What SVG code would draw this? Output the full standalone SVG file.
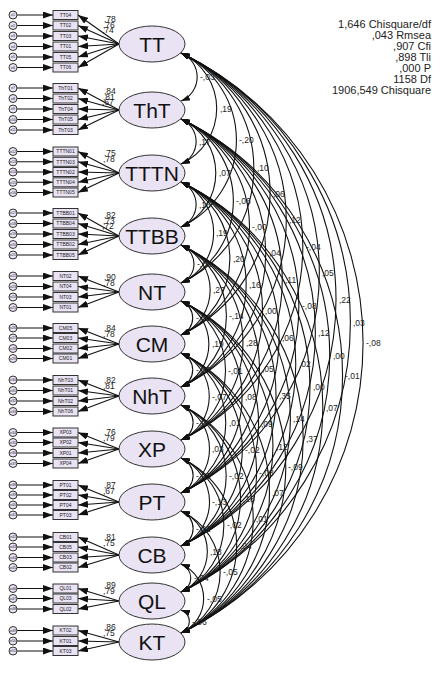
<svg xmlns="http://www.w3.org/2000/svg" width="442" height="673" viewBox="0 0 442 673">
<defs>
<style>
.lat{fill:#e9e3f3;stroke:#333;stroke-width:1}
.lt{font-family:"Liberation Sans",Arial,sans-serif;font-size:21px;fill:#111;text-anchor:middle}
.ind{fill:#e9e3f3;stroke:#333;stroke-width:1}
.it{font-family:"Liberation Sans",Arial,sans-serif;font-size:5px;fill:#222;text-anchor:middle}
.err{fill:#e9e3f3;stroke:#333;stroke-width:1}
.et{font-family:"Liberation Sans",Arial,sans-serif;font-size:3.6px;fill:#222;text-anchor:middle}
.ea line{stroke:#111;stroke-width:1.1;marker-end:url(#ah)}
.la line{stroke:#111;stroke-width:1.1;marker-end:url(#ah)}
.cov path{stroke:#111;stroke-width:1.1;fill:none;marker-start:url(#ch);marker-end:url(#ch)}
.lb{font-family:"Liberation Sans",Arial,sans-serif;font-size:8.5px;fill:#222}
.st{font-family:"Liberation Sans",Arial,sans-serif;font-size:11px;fill:#222;text-anchor:end}
</style>
<marker id="ah" markerUnits="userSpaceOnUse" markerWidth="10" markerHeight="7" refX="10" refY="3.5" orient="auto"><path d="M0,0 L10,3.5 L0,7 z" fill="#111"/></marker>
<marker id="ch" markerUnits="userSpaceOnUse" markerWidth="9" markerHeight="6" refX="9" refY="3" orient="auto-start-reverse"><path d="M0,0 L9,3 L0,6 z" fill="#111"/></marker>
</defs>
<rect width="442" height="673" fill="#fff"/>

<g id="stats">
<text class="st" x="431" y="28">1,646 Chisquare/df</text>
<text class="st" x="431" y="39">,043 Rmsea</text>
<text class="st" x="431" y="50">,907 Cfi</text>
<text class="st" x="431" y="61">,898 Tli</text>
<text class="st" x="431" y="72">,000 P</text>
<text class="st" x="431" y="83">1158 Df</text>
<text class="st" x="431" y="94">1906,549 Chisquare</text>
</g>

<g id="connectors">
<g id="error-arrows" class="ea">
<line x1="17" y1="15" x2="53" y2="15"/><line x1="17" y1="25.5" x2="53" y2="25.5"/><line x1="17" y1="36" x2="53" y2="36"/><line x1="17" y1="46.5" x2="53" y2="46.5"/><line x1="17" y1="57" x2="53" y2="57"/><line x1="17" y1="67.5" x2="53" y2="67.5"/>
<line x1="17" y1="88" x2="53" y2="88"/><line x1="17" y1="98.5" x2="53" y2="98.5"/><line x1="17" y1="109" x2="53" y2="109"/><line x1="17" y1="119.5" x2="53" y2="119.5"/><line x1="17" y1="130" x2="53" y2="130"/>
<line x1="17" y1="151.5" x2="53" y2="151.5"/><line x1="17" y1="161.8" x2="53" y2="161.8"/><line x1="17" y1="172" x2="53" y2="172"/><line x1="17" y1="182.3" x2="53" y2="182.3"/><line x1="17" y1="192.5" x2="53" y2="192.5"/>
<line x1="17" y1="213" x2="53" y2="213"/><line x1="17" y1="223.5" x2="53" y2="223.5"/><line x1="17" y1="234" x2="53" y2="234"/><line x1="17" y1="244.5" x2="53" y2="244.5"/><line x1="17" y1="255" x2="53" y2="255"/>
<line x1="17" y1="276" x2="53" y2="276"/><line x1="17" y1="286.5" x2="53" y2="286.5"/><line x1="17" y1="297" x2="53" y2="297"/><line x1="17" y1="307.5" x2="53" y2="307.5"/>
<line x1="17" y1="328" x2="53" y2="328"/><line x1="17" y1="338" x2="53" y2="338"/><line x1="17" y1="348.5" x2="53" y2="348.5"/><line x1="17" y1="358.5" x2="53" y2="358.5"/>
<line x1="17" y1="380" x2="53" y2="380"/><line x1="17" y1="390.5" x2="53" y2="390.5"/><line x1="17" y1="401" x2="53" y2="401"/><line x1="17" y1="411.5" x2="53" y2="411.5"/>
<line x1="17" y1="432.5" x2="53" y2="432.5"/><line x1="17" y1="442.5" x2="53" y2="442.5"/><line x1="17" y1="453" x2="53" y2="453"/><line x1="17" y1="463.5" x2="53" y2="463.5"/>
<line x1="17" y1="485" x2="53" y2="485"/><line x1="17" y1="495" x2="53" y2="495"/><line x1="17" y1="505" x2="53" y2="505"/><line x1="17" y1="515" x2="53" y2="515"/>
<line x1="17" y1="537" x2="53" y2="537"/><line x1="17" y1="547" x2="53" y2="547"/><line x1="17" y1="557.5" x2="53" y2="557.5"/><line x1="17" y1="567.5" x2="53" y2="567.5"/>
<line x1="17" y1="588.5" x2="53" y2="588.5"/><line x1="17" y1="598.5" x2="53" y2="598.5"/><line x1="17" y1="609" x2="53" y2="609"/>
<line x1="17" y1="630.5" x2="53" y2="630.5"/><line x1="17" y1="641" x2="53" y2="641"/><line x1="17" y1="651" x2="53" y2="651"/>
</g>
<g id="loadings" class="la">
<line x1="119" y1="44" x2="78" y2="15"/><line x1="119" y1="44" x2="78" y2="25.5"/><line x1="119" y1="44" x2="78" y2="36"/><line x1="119" y1="44" x2="78" y2="46.5"/><line x1="119" y1="44" x2="78" y2="57"/><line x1="119" y1="44" x2="78" y2="67.5"/>
<line x1="119" y1="110" x2="78" y2="88"/><line x1="119" y1="110" x2="78" y2="98.5"/><line x1="119" y1="110" x2="78" y2="109"/><line x1="119" y1="110" x2="78" y2="119.5"/><line x1="119" y1="110" x2="78" y2="130"/>
<line x1="119" y1="173" x2="78" y2="151.5"/><line x1="119" y1="173" x2="78" y2="161.8"/><line x1="119" y1="173" x2="78" y2="172"/><line x1="119" y1="173" x2="78" y2="182.3"/><line x1="119" y1="173" x2="78" y2="192.5"/>
<line x1="119" y1="236" x2="78" y2="213"/><line x1="119" y1="236" x2="78" y2="223.5"/><line x1="119" y1="236" x2="78" y2="234"/><line x1="119" y1="236" x2="78" y2="244.5"/><line x1="119" y1="236" x2="78" y2="255"/>
<line x1="119" y1="292" x2="78" y2="276"/><line x1="119" y1="292" x2="78" y2="286.5"/><line x1="119" y1="292" x2="78" y2="297"/><line x1="119" y1="292" x2="78" y2="307.5"/>
<line x1="119" y1="344" x2="78" y2="328"/><line x1="119" y1="344" x2="78" y2="338"/><line x1="119" y1="344" x2="78" y2="348.5"/><line x1="119" y1="344" x2="78" y2="358.5"/>
<line x1="119" y1="396" x2="78" y2="380"/><line x1="119" y1="396" x2="78" y2="390.5"/><line x1="119" y1="396" x2="78" y2="401"/><line x1="119" y1="396" x2="78" y2="411.5"/>
<line x1="119" y1="449" x2="78" y2="432.5"/><line x1="119" y1="449" x2="78" y2="442.5"/><line x1="119" y1="449" x2="78" y2="453"/><line x1="119" y1="449" x2="78" y2="463.5"/>
<line x1="119" y1="502" x2="78" y2="485"/><line x1="119" y1="502" x2="78" y2="495"/><line x1="119" y1="502" x2="78" y2="505"/><line x1="119" y1="502" x2="78" y2="515"/>
<line x1="119" y1="555" x2="78" y2="537"/><line x1="119" y1="555" x2="78" y2="547"/><line x1="119" y1="555" x2="78" y2="557.5"/><line x1="119" y1="555" x2="78" y2="567.5"/>
<line x1="119" y1="601" x2="78" y2="588.5"/><line x1="119" y1="601" x2="78" y2="598.5"/><line x1="119" y1="601" x2="78" y2="609"/>
<line x1="119" y1="642" x2="78" y2="630.5"/><line x1="119" y1="642" x2="78" y2="641"/><line x1="119" y1="642" x2="78" y2="651"/>
</g>
<g id="loading-labels">
<text class="lb" x="104" y="22">,78</text><text class="lb" x="103" y="27.5">,76</text><text class="lb" x="102" y="33">,74</text>
<text class="lb" x="104" y="94">,84</text><text class="lb" x="103" y="99.5">,81</text><text class="lb" x="102" y="105">,67</text>
<text class="lb" x="104" y="156">,75</text><text class="lb" x="103" y="161.5">,78</text>
<text class="lb" x="104" y="218">,82</text><text class="lb" x="103" y="223.5">,73</text><text class="lb" x="102" y="229">,72</text>
<text class="lb" x="104" y="280">,90</text><text class="lb" x="103" y="285.5">,78</text>
<text class="lb" x="104" y="331">,84</text><text class="lb" x="103" y="336.5">,78</text>
<text class="lb" x="104" y="383">,82</text><text class="lb" x="103" y="388.5">,81</text>
<text class="lb" x="104" y="435">,76</text><text class="lb" x="103" y="440.5">,79</text>
<text class="lb" x="104" y="488">,87</text><text class="lb" x="103" y="493.5">,67</text>
<text class="lb" x="104" y="540">,81</text><text class="lb" x="103" y="545.5">,75</text>
<text class="lb" x="104" y="588">,89</text><text class="lb" x="103" y="593.5">,79</text>
<text class="lb" x="104" y="630">,86</text><text class="lb" x="103" y="635.5">,75</text>
</g>
<g id="covariances" class="cov">
<path d="M181 53A25.9 25.9 0 0 1 181 101"/>
<path d="M181 53A61 61 0 0 1 181 164"/>
<path d="M181 53A96 96 0 0 1 181 227"/>
<path d="M181 53A127.2 127.2 0 0 1 181 283"/>
<path d="M181 53A156.1 156.1 0 0 1 181 335"/>
<path d="M181 53A185.1 185.1 0 0 1 181 387"/>
<path d="M181 53A214.6 214.6 0 0 1 181 440"/>
<path d="M181 53A244.1 244.1 0 0 1 181 493"/>
<path d="M181 53A273.5 273.5 0 0 1 181 546"/>
<path d="M181 53A299.1 299.1 0 0 1 181 592"/>
<path d="M181 53A322 322 0 0 1 181 633"/>
<path d="M181 119A24.3 24.3 0 0 1 181 164"/>
<path d="M181 119A59.3 59.3 0 0 1 181 227"/>
<path d="M181 119A90.4 90.4 0 0 1 181 283"/>
<path d="M181 119A119.4 119.4 0 0 1 181 335"/>
<path d="M181 119A148.3 148.3 0 0 1 181 387"/>
<path d="M181 119A177.8 177.8 0 0 1 181 440"/>
<path d="M181 119A207.3 207.3 0 0 1 181 493"/>
<path d="M181 119A236.8 236.8 0 0 1 181 546"/>
<path d="M181 119A262.4 262.4 0 0 1 181 592"/>
<path d="M181 119A285.2 285.2 0 0 1 181 633"/>
<path d="M181 182A24.3 24.3 0 0 1 181 227"/>
<path d="M181 182A55.4 55.4 0 0 1 181 283"/>
<path d="M181 182A84.3 84.3 0 0 1 181 335"/>
<path d="M181 182A113.2 113.2 0 0 1 181 387"/>
<path d="M181 182A142.8 142.8 0 0 1 181 440"/>
<path d="M181 182A172.3 172.3 0 0 1 181 493"/>
<path d="M181 182A201.7 201.7 0 0 1 181 546"/>
<path d="M181 182A227.4 227.4 0 0 1 181 592"/>
<path d="M181 182A250.2 250.2 0 0 1 181 633"/>
<path d="M181 245A20.4 20.4 0 0 1 181 283"/>
<path d="M181 245A49.3 49.3 0 0 1 181 335"/>
<path d="M181 245A78.2 78.2 0 0 1 181 387"/>
<path d="M181 245A107.7 107.7 0 0 1 181 440"/>
<path d="M181 245A137.2 137.2 0 0 1 181 493"/>
<path d="M181 245A166.7 166.7 0 0 1 181 546"/>
<path d="M181 245A192.3 192.3 0 0 1 181 592"/>
<path d="M181 245A215.1 215.1 0 0 1 181 633"/>
<path d="M181 301A18.2 18.2 0 0 1 181 335"/>
<path d="M181 301A47.1 47.1 0 0 1 181 387"/>
<path d="M181 301A76.5 76.5 0 0 1 181 440"/>
<path d="M181 301A106 106 0 0 1 181 493"/>
<path d="M181 301A135.5 135.5 0 0 1 181 546"/>
<path d="M181 301A161.1 161.1 0 0 1 181 592"/>
<path d="M181 301A183.9 183.9 0 0 1 181 633"/>
<path d="M181 353A18.2 18.2 0 0 1 181 387"/>
<path d="M181 353A47.6 47.6 0 0 1 181 440"/>
<path d="M181 353A77.1 77.1 0 0 1 181 493"/>
<path d="M181 353A106.6 106.6 0 0 1 181 546"/>
<path d="M181 353A132.2 132.2 0 0 1 181 592"/>
<path d="M181 353A155 155 0 0 1 181 633"/>
<path d="M181 405A18.7 18.7 0 0 1 181 440"/>
<path d="M181 405A48.2 48.2 0 0 1 181 493"/>
<path d="M181 405A77.6 77.6 0 0 1 181 546"/>
<path d="M181 405A103.2 103.2 0 0 1 181 592"/>
<path d="M181 405A126.1 126.1 0 0 1 181 633"/>
<path d="M181 458A18.7 18.7 0 0 1 181 493"/>
<path d="M181 458A48.2 48.2 0 0 1 181 546"/>
<path d="M181 458A73.8 73.8 0 0 1 181 592"/>
<path d="M181 458A96.6 96.6 0 0 1 181 633"/>
<path d="M181 511A18.7 18.7 0 0 1 181 546"/>
<path d="M181 511A44.3 44.3 0 0 1 181 592"/>
<path d="M181 511A67.1 67.1 0 0 1 181 633"/>
<path d="M181 564A14.9 14.9 0 0 1 181 592"/>
<path d="M181 564A37.6 37.6 0 0 1 181 633"/>
<path d="M181 610A12.1 12.1 0 0 1 181 633"/>
</g>
<g id="covariance-labels">
<text class="lb" x="200" y="80">-,03</text>
<text class="lb" x="220" y="111.5">,19</text>
<text class="lb" x="239" y="143">-,20</text>
<text class="lb" x="257" y="171">,10</text>
<text class="lb" x="273" y="197">,06</text>
<text class="lb" x="289" y="223">,12</text>
<text class="lb" x="306" y="249.5">-,04</text>
<text class="lb" x="322" y="276">,05</text>
<text class="lb" x="339" y="302.5">,22</text>
<text class="lb" x="353" y="325.5">,03</text>
<text class="lb" x="366" y="346">-,08</text>
<text class="lb" x="199" y="144.5">,17</text>
<text class="lb" x="219" y="176">,07</text>
<text class="lb" x="236" y="204">-,06</text>
<text class="lb" x="252" y="230">-,00</text>
<text class="lb" x="269" y="256">,04</text>
<text class="lb" x="285" y="282.5">,11</text>
<text class="lb" x="302" y="309">-,08</text>
<text class="lb" x="318" y="335.5">,12</text>
<text class="lb" x="333" y="358.5">,00</text>
<text class="lb" x="345" y="379">-,01</text>
<text class="lb" x="199" y="207.5">,16</text>
<text class="lb" x="216" y="235.5">,19</text>
<text class="lb" x="233" y="261.5">,20</text>
<text class="lb" x="249" y="287.5">,16</text>
<text class="lb" x="265" y="314">,00</text>
<text class="lb" x="282" y="340.5">,06</text>
<text class="lb" x="299" y="367">,02</text>
<text class="lb" x="313" y="390">,00</text>
<text class="lb" x="326" y="410.5">,07</text>
<text class="lb" x="197" y="267">-,06</text>
<text class="lb" x="213" y="293">,27</text>
<text class="lb" x="229" y="319">-,14</text>
<text class="lb" x="246" y="345.5">,28</text>
<text class="lb" x="262" y="372">,05</text>
<text class="lb" x="279" y="398.5">,35</text>
<text class="lb" x="293" y="421.5">,14</text>
<text class="lb" x="306" y="442">,37</text>
<text class="lb" x="196" y="321">-,05</text>
<text class="lb" x="212" y="347">,19</text>
<text class="lb" x="228" y="373.5">-,01</text>
<text class="lb" x="245" y="400">,08</text>
<text class="lb" x="261" y="426.5">,09</text>
<text class="lb" x="276" y="449.5">,12</text>
<text class="lb" x="288" y="470">-,09</text>
<text class="lb" x="196" y="373">-,07</text>
<text class="lb" x="212" y="399.5">-,07</text>
<text class="lb" x="229" y="426">,01</text>
<text class="lb" x="245" y="452.5">-,02</text>
<text class="lb" x="259" y="475.5">-,08</text>
<text class="lb" x="272" y="496">,07</text>
<text class="lb" x="196" y="425.5">-,04</text>
<text class="lb" x="212" y="452">,03</text>
<text class="lb" x="229" y="478.5">-,02</text>
<text class="lb" x="243" y="501.5">,18</text>
<text class="lb" x="256" y="522">,01</text>
<text class="lb" x="196" y="478.5">-,03</text>
<text class="lb" x="212" y="505">-,13</text>
<text class="lb" x="227" y="528">-,02</text>
<text class="lb" x="240" y="548.5">,04</text>
<text class="lb" x="196" y="531.5">-,02</text>
<text class="lb" x="210" y="554.5">,18</text>
<text class="lb" x="223" y="575">-,05</text>
<text class="lb" x="194" y="581">-,04</text>
<text class="lb" x="207" y="601.5">-,05</text>
<text class="lb" x="192" y="624.5">-,06</text>
</g>
</g>

<g id="TT"><ellipse class="lat" cx="152" cy="44" rx="33" ry="18"/><text class="lt" x="152" y="51.5">TT</text></g>
<g id="ThT"><ellipse class="lat" cx="152" cy="110" rx="33" ry="18"/><text class="lt" x="152" y="117.5">ThT</text></g>
<g id="TTTN"><ellipse class="lat" cx="152" cy="173" rx="33" ry="18"/><text class="lt" x="152" y="180.5">TTTN</text></g>
<g id="TTBB"><ellipse class="lat" cx="152" cy="236" rx="33" ry="18"/><text class="lt" x="152" y="243.5">TTBB</text></g>
<g id="NT"><ellipse class="lat" cx="152" cy="292" rx="33" ry="18"/><text class="lt" x="152" y="299.5">NT</text></g>
<g id="CM"><ellipse class="lat" cx="152" cy="344" rx="33" ry="18"/><text class="lt" x="152" y="351.5">CM</text></g>
<g id="NhT"><ellipse class="lat" cx="152" cy="396" rx="33" ry="18"/><text class="lt" x="152" y="403.5">NhT</text></g>
<g id="XP"><ellipse class="lat" cx="152" cy="449" rx="33" ry="18"/><text class="lt" x="152" y="456.5">XP</text></g>
<g id="PT"><ellipse class="lat" cx="152" cy="502" rx="33" ry="18"/><text class="lt" x="152" y="509.5">PT</text></g>
<g id="CB"><ellipse class="lat" cx="152" cy="555" rx="33" ry="18"/><text class="lt" x="152" y="562.5">CB</text></g>
<g id="QL"><ellipse class="lat" cx="152" cy="601" rx="33" ry="18"/><text class="lt" x="152" y="608.5">QL</text></g>
<g id="KT"><ellipse class="lat" cx="152" cy="642" rx="33" ry="18"/><text class="lt" x="152" y="649.5">KT</text></g>

<g id="TT04"><rect class="ind" x="53" y="10.5" width="25" height="9"/><text class="it" x="65.5" y="16.8">TT04</text></g>
<g id="TT02"><rect class="ind" x="53" y="21" width="25" height="9"/><text class="it" x="65.5" y="27.3">TT02</text></g>
<g id="TT03"><rect class="ind" x="53" y="31.5" width="25" height="9"/><text class="it" x="65.5" y="37.8">TT03</text></g>
<g id="TT01"><rect class="ind" x="53" y="42" width="25" height="9"/><text class="it" x="65.5" y="48.3">TT01</text></g>
<g id="TT05"><rect class="ind" x="53" y="52.5" width="25" height="9"/><text class="it" x="65.5" y="58.8">TT05</text></g>
<g id="TT06"><rect class="ind" x="53" y="63" width="25" height="9"/><text class="it" x="65.5" y="69.3">TT06</text></g>
<g id="ThT01"><rect class="ind" x="53" y="83.5" width="25" height="9"/><text class="it" x="65.5" y="89.8">ThT01</text></g>
<g id="ThT02"><rect class="ind" x="53" y="94" width="25" height="9"/><text class="it" x="65.5" y="100.3">ThT02</text></g>
<g id="ThT04"><rect class="ind" x="53" y="104.5" width="25" height="9"/><text class="it" x="65.5" y="110.8">ThT04</text></g>
<g id="ThT05"><rect class="ind" x="53" y="115" width="25" height="9"/><text class="it" x="65.5" y="121.3">ThT05</text></g>
<g id="ThT03"><rect class="ind" x="53" y="125.5" width="25" height="9"/><text class="it" x="65.5" y="131.8">ThT03</text></g>
<g id="TTTN01"><rect class="ind" x="53" y="147" width="25" height="9"/><text class="it" x="65.5" y="153.3">TTTN01</text></g>
<g id="TTTN03"><rect class="ind" x="53" y="157.3" width="25" height="9"/><text class="it" x="65.5" y="163.6">TTTN03</text></g>
<g id="TTTN02"><rect class="ind" x="53" y="167.5" width="25" height="9"/><text class="it" x="65.5" y="173.8">TTTN02</text></g>
<g id="TTTN04"><rect class="ind" x="53" y="177.8" width="25" height="9"/><text class="it" x="65.5" y="184.1">TTTN04</text></g>
<g id="TTTN05"><rect class="ind" x="53" y="188" width="25" height="9"/><text class="it" x="65.5" y="194.3">TTTN05</text></g>
<g id="TTBB01"><rect class="ind" x="53" y="208.5" width="25" height="9"/><text class="it" x="65.5" y="214.8">TTBB01</text></g>
<g id="TTBB04"><rect class="ind" x="53" y="219" width="25" height="9"/><text class="it" x="65.5" y="225.3">TTBB04</text></g>
<g id="TTBB03"><rect class="ind" x="53" y="229.5" width="25" height="9"/><text class="it" x="65.5" y="235.8">TTBB03</text></g>
<g id="TTBB02"><rect class="ind" x="53" y="240" width="25" height="9"/><text class="it" x="65.5" y="246.3">TTBB02</text></g>
<g id="TTBB05"><rect class="ind" x="53" y="250.5" width="25" height="9"/><text class="it" x="65.5" y="256.8">TTBB05</text></g>
<g id="NT02"><rect class="ind" x="53" y="271.5" width="25" height="9"/><text class="it" x="65.5" y="277.8">NT02</text></g>
<g id="NT04"><rect class="ind" x="53" y="282" width="25" height="9"/><text class="it" x="65.5" y="288.3">NT04</text></g>
<g id="NT03"><rect class="ind" x="53" y="292.5" width="25" height="9"/><text class="it" x="65.5" y="298.8">NT03</text></g>
<g id="NT01"><rect class="ind" x="53" y="303" width="25" height="9"/><text class="it" x="65.5" y="309.3">NT01</text></g>
<g id="CM05"><rect class="ind" x="53" y="323.5" width="25" height="9"/><text class="it" x="65.5" y="329.8">CM05</text></g>
<g id="CM03"><rect class="ind" x="53" y="333.5" width="25" height="9"/><text class="it" x="65.5" y="339.8">CM03</text></g>
<g id="CM02"><rect class="ind" x="53" y="344" width="25" height="9"/><text class="it" x="65.5" y="350.3">CM02</text></g>
<g id="CM01"><rect class="ind" x="53" y="354" width="25" height="9"/><text class="it" x="65.5" y="360.3">CM01</text></g>
<g id="NhT03"><rect class="ind" x="53" y="375.5" width="25" height="9"/><text class="it" x="65.5" y="381.8">NhT03</text></g>
<g id="NhT01"><rect class="ind" x="53" y="386" width="25" height="9"/><text class="it" x="65.5" y="392.3">NhT01</text></g>
<g id="NhT02"><rect class="ind" x="53" y="396.5" width="25" height="9"/><text class="it" x="65.5" y="402.8">NhT02</text></g>
<g id="NhT06"><rect class="ind" x="53" y="407" width="25" height="9"/><text class="it" x="65.5" y="413.3">NhT06</text></g>
<g id="XP03"><rect class="ind" x="53" y="428" width="25" height="9"/><text class="it" x="65.5" y="434.3">XP03</text></g>
<g id="XP02"><rect class="ind" x="53" y="438" width="25" height="9"/><text class="it" x="65.5" y="444.3">XP02</text></g>
<g id="XP01"><rect class="ind" x="53" y="448.5" width="25" height="9"/><text class="it" x="65.5" y="454.8">XP01</text></g>
<g id="XP04"><rect class="ind" x="53" y="459" width="25" height="9"/><text class="it" x="65.5" y="465.3">XP04</text></g>
<g id="PT01"><rect class="ind" x="53" y="480.5" width="25" height="9"/><text class="it" x="65.5" y="486.8">PT01</text></g>
<g id="PT02"><rect class="ind" x="53" y="490.5" width="25" height="9"/><text class="it" x="65.5" y="496.8">PT02</text></g>
<g id="PT04"><rect class="ind" x="53" y="500.5" width="25" height="9"/><text class="it" x="65.5" y="506.8">PT04</text></g>
<g id="PT03"><rect class="ind" x="53" y="510.5" width="25" height="9"/><text class="it" x="65.5" y="516.8">PT03</text></g>
<g id="CB01"><rect class="ind" x="53" y="532.5" width="25" height="9"/><text class="it" x="65.5" y="538.8">CB01</text></g>
<g id="CB05"><rect class="ind" x="53" y="542.5" width="25" height="9"/><text class="it" x="65.5" y="548.8">CB05</text></g>
<g id="CB03"><rect class="ind" x="53" y="553" width="25" height="9"/><text class="it" x="65.5" y="559.3">CB03</text></g>
<g id="CB02"><rect class="ind" x="53" y="563" width="25" height="9"/><text class="it" x="65.5" y="569.3">CB02</text></g>
<g id="QL01"><rect class="ind" x="53" y="584" width="25" height="9"/><text class="it" x="65.5" y="590.3">QL01</text></g>
<g id="QL03"><rect class="ind" x="53" y="594" width="25" height="9"/><text class="it" x="65.5" y="600.3">QL03</text></g>
<g id="QL02"><rect class="ind" x="53" y="604.5" width="25" height="9"/><text class="it" x="65.5" y="610.8">QL02</text></g>
<g id="KT02"><rect class="ind" x="53" y="626" width="25" height="9"/><text class="it" x="65.5" y="632.3">KT02</text></g>
<g id="KT01"><rect class="ind" x="53" y="636.5" width="25" height="9"/><text class="it" x="65.5" y="642.8">KT01</text></g>
<g id="KT03"><rect class="ind" x="53" y="646.5" width="25" height="9"/><text class="it" x="65.5" y="652.8">KT03</text></g>

<g id="e1"><circle class="err" cx="13" cy="15" r="4"/><text class="et" x="13" y="16.3">e1</text></g>
<g id="e2"><circle class="err" cx="13" cy="25.5" r="4"/><text class="et" x="13" y="26.8">e2</text></g>
<g id="e3"><circle class="err" cx="13" cy="36" r="4"/><text class="et" x="13" y="37.3">e3</text></g>
<g id="e4"><circle class="err" cx="13" cy="46.5" r="4"/><text class="et" x="13" y="47.8">e4</text></g>
<g id="e5"><circle class="err" cx="13" cy="57" r="4"/><text class="et" x="13" y="58.3">e5</text></g>
<g id="e6"><circle class="err" cx="13" cy="67.5" r="4"/><text class="et" x="13" y="68.8">e6</text></g>
<g id="e7"><circle class="err" cx="13" cy="88" r="4"/><text class="et" x="13" y="89.3">e7</text></g>
<g id="e8"><circle class="err" cx="13" cy="98.5" r="4"/><text class="et" x="13" y="99.8">e8</text></g>
<g id="e9"><circle class="err" cx="13" cy="109" r="4"/><text class="et" x="13" y="110.3">e9</text></g>
<g id="e10"><circle class="err" cx="13" cy="119.5" r="4"/><text class="et" x="13" y="120.8">e10</text></g>
<g id="e11"><circle class="err" cx="13" cy="130" r="4"/><text class="et" x="13" y="131.3">e11</text></g>
<g id="e12"><circle class="err" cx="13" cy="151.5" r="4"/><text class="et" x="13" y="152.8">e12</text></g>
<g id="e13"><circle class="err" cx="13" cy="161.8" r="4"/><text class="et" x="13" y="163.1">e13</text></g>
<g id="e14"><circle class="err" cx="13" cy="172" r="4"/><text class="et" x="13" y="173.3">e14</text></g>
<g id="e15"><circle class="err" cx="13" cy="182.3" r="4"/><text class="et" x="13" y="183.6">e15</text></g>
<g id="e16"><circle class="err" cx="13" cy="192.5" r="4"/><text class="et" x="13" y="193.8">e16</text></g>
<g id="e17"><circle class="err" cx="13" cy="213" r="4"/><text class="et" x="13" y="214.3">e17</text></g>
<g id="e18"><circle class="err" cx="13" cy="223.5" r="4"/><text class="et" x="13" y="224.8">e18</text></g>
<g id="e19"><circle class="err" cx="13" cy="234" r="4"/><text class="et" x="13" y="235.3">e19</text></g>
<g id="e20"><circle class="err" cx="13" cy="244.5" r="4"/><text class="et" x="13" y="245.8">e20</text></g>
<g id="e21"><circle class="err" cx="13" cy="255" r="4"/><text class="et" x="13" y="256.3">e21</text></g>
<g id="e22"><circle class="err" cx="13" cy="276" r="4"/><text class="et" x="13" y="277.3">e22</text></g>
<g id="e23"><circle class="err" cx="13" cy="286.5" r="4"/><text class="et" x="13" y="287.8">e23</text></g>
<g id="e24"><circle class="err" cx="13" cy="297" r="4"/><text class="et" x="13" y="298.3">e24</text></g>
<g id="e25"><circle class="err" cx="13" cy="307.5" r="4"/><text class="et" x="13" y="308.8">e25</text></g>
<g id="e26"><circle class="err" cx="13" cy="328" r="4"/><text class="et" x="13" y="329.3">e26</text></g>
<g id="e27"><circle class="err" cx="13" cy="338" r="4"/><text class="et" x="13" y="339.3">e27</text></g>
<g id="e28"><circle class="err" cx="13" cy="348.5" r="4"/><text class="et" x="13" y="349.8">e28</text></g>
<g id="e29"><circle class="err" cx="13" cy="358.5" r="4"/><text class="et" x="13" y="359.8">e29</text></g>
<g id="e30"><circle class="err" cx="13" cy="380" r="4"/><text class="et" x="13" y="381.3">e30</text></g>
<g id="e31"><circle class="err" cx="13" cy="390.5" r="4"/><text class="et" x="13" y="391.8">e31</text></g>
<g id="e32"><circle class="err" cx="13" cy="401" r="4"/><text class="et" x="13" y="402.3">e32</text></g>
<g id="e33"><circle class="err" cx="13" cy="411.5" r="4"/><text class="et" x="13" y="412.8">e33</text></g>
<g id="e34"><circle class="err" cx="13" cy="432.5" r="4"/><text class="et" x="13" y="433.8">e34</text></g>
<g id="e35"><circle class="err" cx="13" cy="442.5" r="4"/><text class="et" x="13" y="443.8">e35</text></g>
<g id="e36"><circle class="err" cx="13" cy="453" r="4"/><text class="et" x="13" y="454.3">e36</text></g>
<g id="e37"><circle class="err" cx="13" cy="463.5" r="4"/><text class="et" x="13" y="464.8">e37</text></g>
<g id="e38"><circle class="err" cx="13" cy="485" r="4"/><text class="et" x="13" y="486.3">e38</text></g>
<g id="e39"><circle class="err" cx="13" cy="495" r="4"/><text class="et" x="13" y="496.3">e39</text></g>
<g id="e40"><circle class="err" cx="13" cy="505" r="4"/><text class="et" x="13" y="506.3">e40</text></g>
<g id="e41"><circle class="err" cx="13" cy="515" r="4"/><text class="et" x="13" y="516.3">e41</text></g>
<g id="e42"><circle class="err" cx="13" cy="537" r="4"/><text class="et" x="13" y="538.3">e42</text></g>
<g id="e43"><circle class="err" cx="13" cy="547" r="4"/><text class="et" x="13" y="548.3">e43</text></g>
<g id="e44"><circle class="err" cx="13" cy="557.5" r="4"/><text class="et" x="13" y="558.8">e44</text></g>
<g id="e45"><circle class="err" cx="13" cy="567.5" r="4"/><text class="et" x="13" y="568.8">e45</text></g>
<g id="e46"><circle class="err" cx="13" cy="588.5" r="4"/><text class="et" x="13" y="589.8">e46</text></g>
<g id="e47"><circle class="err" cx="13" cy="598.5" r="4"/><text class="et" x="13" y="599.8">e47</text></g>
<g id="e48"><circle class="err" cx="13" cy="609" r="4"/><text class="et" x="13" y="610.3">e48</text></g>
<g id="e49"><circle class="err" cx="13" cy="630.5" r="4"/><text class="et" x="13" y="631.8">e49</text></g>
<g id="e50"><circle class="err" cx="13" cy="641" r="4"/><text class="et" x="13" y="642.3">e50</text></g>
<g id="e51"><circle class="err" cx="13" cy="651" r="4"/><text class="et" x="13" y="652.3">e51</text></g>
</svg>
